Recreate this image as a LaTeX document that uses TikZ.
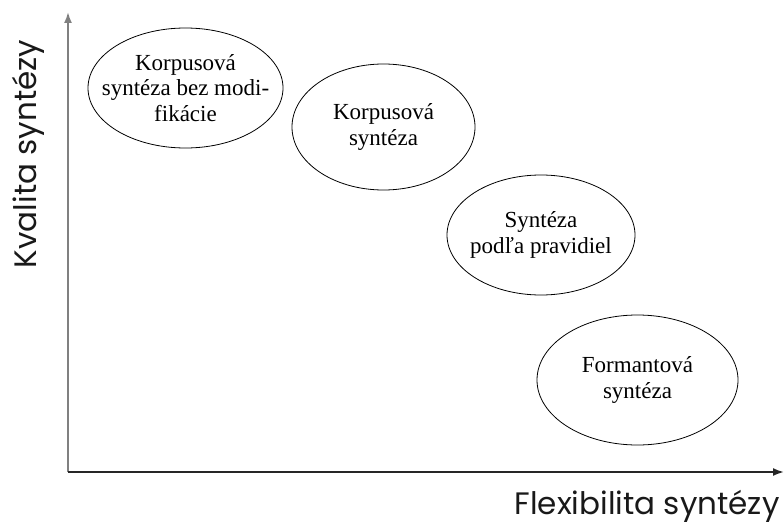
\documentclass[tikz,border=0pt]{standalone}
\usepackage{fontspec}
\setmainfont{Liberation Serif}
\newfontfamily\axisfont{Poppins}
\usetikzlibrary{shapes.geometric,arrows.meta}
\begin{document}
\begin{tikzpicture}[x=1pt,y=-1pt,
  oval/.style={draw=black,line width=0.8pt,ellipse,inner sep=0pt},
  ovaltext/.style={align=center,inner sep=0pt,font=\fontsize{23}{25.5}\selectfont},
  axis/.style={line width=1.8pt,-{Latex[length=11pt,width=8pt]}},
  axislabel/.style={font=\axisfont\fontsize{31}{34}\selectfont\color{black!90}}]
\useasboundingbox (0,0) rectangle (784,527);
\coordinate (origin) at (68,472);
\coordinate (ytop) at (68,12);
\coordinate (xend) at (784,472);
\draw[axis,draw=black!50,fill=black] (origin) -- (ytop);
\draw[axis,draw=black!85] (origin) -- (xend);

% ellipses
\node[oval,minimum width=195pt,minimum height=120pt] (a) at (185.5,88) {};
\node[oval,minimum width=183pt,minimum height=126pt] (b) at (383.5,127) {};
\node[oval,minimum width=188pt,minimum height=120pt] (c) at (541,235) {};
\node[oval,minimum width=201pt,minimum height=130pt] (d) at (637.5,380) {};

% their texts
\node[ovaltext] (ta) at (a.center) {Korpusová\\syntéza bez modi-\\fikácie};
\node[ovaltext] (tb) at (b.center) {Korpusová\\syntéza};
\node[ovaltext] (tc) at (c.center) {Syntéza\\podľa pravidiel};
\node[ovaltext] (td) at (d.center) {Formantová\\syntéza};

\node[axislabel,rotate=90] (ylab) at (28,154) {Kvalita syntézy};
\node[axislabel,anchor=east] (xlab) at (783,506) {Flexibilita syntézy};
\end{tikzpicture}
\end{document}
